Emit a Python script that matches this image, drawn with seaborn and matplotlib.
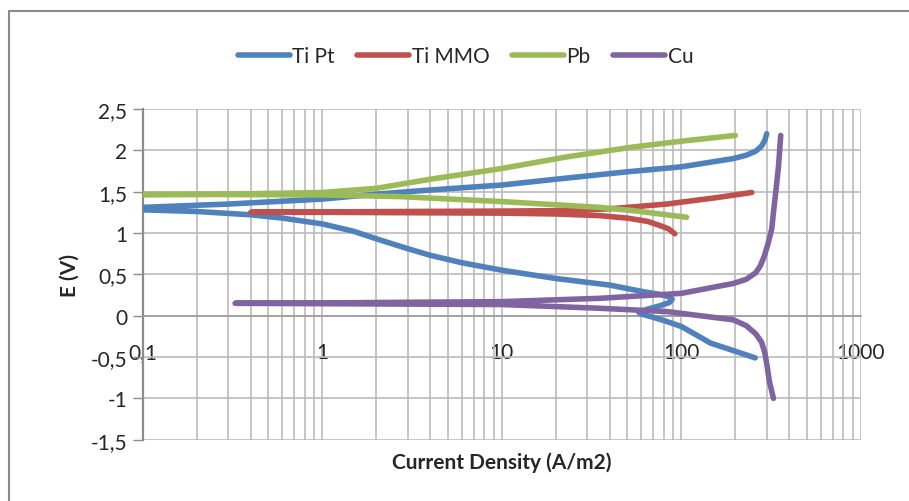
import numpy as np
import pandas as pd
import matplotlib
matplotlib.use("Agg")
import matplotlib.pyplot as plt
import seaborn as sns
from matplotlib.lines import Line2D
from matplotlib.ticker import FixedLocator, LogLocator, NullFormatter

series_names = ["Ti Pt", "Ti MMO", "Pb", "Cu"]
colors = ["#4F81BD", "#C0504D", "#9BBB59", "#8064A2"]

ti_pt_i = [258, 200, 165, 145, 130, 112, 100, 83, 70, 60, 58, 65, 76, 86, 89, 85, 75, 61.5, 40,
           20, 10, 6, 4, 3, 2, 1.5, 1, 0.6, 0.4, 0.2, 0.1,
           0.1, 0.3, 1, 2, 4, 10, 20, 50, 100, 195, 230, 260, 280, 292, 299]
ti_pt_e = [-0.51, -0.43, -0.37, -0.33, -0.27, -0.19, -0.13, -0.07, -0.02, 0.02, 0.04, 0.08, 0.12,
           0.16, 0.20, 0.23, 0.26, 0.29, 0.37, 0.45, 0.55, 0.64, 0.73, 0.81, 0.93, 1.02, 1.11,
           1.18, 1.22, 1.26, 1.28,
           1.31, 1.35, 1.41, 1.47, 1.52, 1.58, 1.65, 1.74, 1.80, 1.90, 1.94, 1.99, 2.05, 2.12,
           2.20]

ti_mmo_i = [92, 85, 76, 65, 50, 35, 20, 10, 3, 1, 0.4, 1, 3, 10, 20, 38, 50, 83, 160, 247]
ti_mmo_e = [0.99, 1.05, 1.09, 1.14, 1.18, 1.21, 1.23, 1.24, 1.245, 1.25, 1.25, 1.255, 1.26,
            1.265, 1.27, 1.29, 1.31, 1.35, 1.43, 1.49]

pb_i = [107, 54, 35, 10, 2.7, 1, 0.3, 0.1, 0.3, 1, 2, 4, 10, 23, 54, 100, 200]
pb_e = [1.19, 1.27, 1.31, 1.38, 1.44, 1.46, 1.465, 1.465, 1.47, 1.49, 1.54, 1.65, 1.78, 1.92,
        2.04, 2.11, 2.18]

cu_i = [326, 310, 300, 292, 280, 260, 230, 195, 83, 35, 10, 1, 0.327,
        1, 10, 35, 100, 195, 230, 260, 275, 290, 305, 319, 330, 340, 348, 358]
cu_e = [-1.0, -0.8, -0.6, -0.45, -0.32, -0.22, -0.12, -0.05, 0.05, 0.09, 0.135, 0.145, 0.15,
        0.155, 0.17, 0.21, 0.27, 0.39, 0.44, 0.52, 0.60, 0.72, 0.88, 1.05, 1.35, 1.60, 1.81,
        2.18]

x_ticks = [0.1, 1, 10, 100, 1000]
x_tick_labels = ["0,1", "1", "10", "100", "1000"]
y_ticks = [-1.5, -1, -0.5, 0, 0.5, 1, 1.5, 2, 2.5]
y_tick_labels = ["-1,5", "-1", "-0,5", "0", "0,5", "1", "1,5", "2", "2,5"]

frames = []
for name, xi, ei in zip(series_names,
                        [ti_pt_i, ti_mmo_i, pb_i, cu_i],
                        [ti_pt_e, ti_mmo_e, pb_e, cu_e]):
    frames.append(pd.DataFrame({"i": xi, "E": ei, "series": name}))
df = pd.concat(frames, ignore_index=True)

sns.set_style("white")
plt.rcParams["font.family"] = ["Lato", "DejaVu Sans"]

fig = plt.figure(figsize=(9.09, 5.02), dpi=100)
ax = fig.add_axes([0.157, 0.122, 0.79, 0.659])

sns.lineplot(data=df, x="i", y="E", hue="series", hue_order=series_names,
             palette=colors, sort=False, estimator=None, linewidth=4.0, ax=ax,
             legend=False, zorder=3)
for ln in ax.get_lines():
    ln.set_solid_capstyle("round")
    ln.set_solid_joinstyle("round")

ax.set_xscale("log")
ax.set_xlim(0.1, 1000)
ax.set_ylim(-1.5, 2.5)

grid_c = "#BBBBBB"
ax.xaxis.set_major_locator(FixedLocator(x_ticks))
ax.xaxis.set_minor_locator(LogLocator(base=10, subs=np.arange(2, 10)))
ax.xaxis.set_minor_formatter(NullFormatter())
ax.set_xticklabels(x_tick_labels)
ax.set_yticks(y_ticks)
ax.set_yticklabels(y_tick_labels)
ax.grid(True, which="both", axis="x", color=grid_c, linewidth=1.2, zorder=0)
ax.grid(True, which="major", axis="y", color=grid_c, linewidth=1.2, zorder=0)
ax.set_axisbelow(True)

for s in ["top", "right"]:
    ax.spines[s].set_visible(False)
ax.spines["left"].set_color("#8C8C8C")
ax.spines["left"].set_linewidth(1.6)
ax.spines["bottom"].set_position(("data", 0))
ax.spines["bottom"].set_color("#9C9C9C")
ax.spines["bottom"].set_linewidth(1.2)

fs = 15
ax.tick_params(axis="y", which="major", length=7, width=1.0, color="#8C8C8C",
               labelsize=fs, pad=4, left=True, direction="out")
ax.tick_params(axis="x", which="both", length=0, labelsize=fs, pad=19)

ax.set_ylabel("E (V)", fontsize=fs, fontweight="bold", labelpad=8)
ax.set_xlabel("Current Density (A/m2)", fontsize=fs, fontweight="bold")
ax.xaxis.set_label_coords(0.5, -0.035)

handles = [Line2D([0], [0], color=c, linewidth=4.0, solid_capstyle="round") for c in colors]
fig.legend(handles, series_names, loc="center", bbox_to_anchor=(0.512, 0.886), ncol=4,
           frameon=False, fontsize=fs, handlelength=2.5, handletextpad=0.1,
           columnspacing=1.1)

# outer chart border (top and left edges)
fig.add_artist(Line2D([9 / 909, 1.0], [1 - 12 / 502, 1 - 12 / 502], color="#8A8A8A",
                      linewidth=1.5, transform=fig.transFigure))
fig.add_artist(Line2D([9 / 909, 9 / 909], [0.0, 1 - 12 / 502], color="#8A8A8A",
                      linewidth=1.5, transform=fig.transFigure))

fig.savefig("out.png", dpi=100)
